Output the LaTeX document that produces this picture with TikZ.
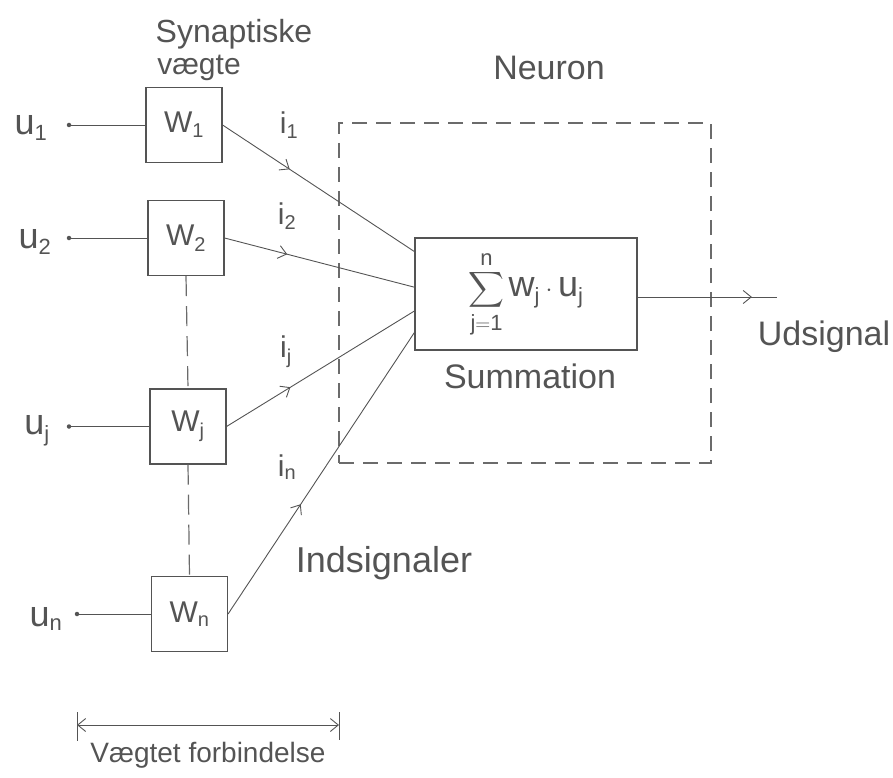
\documentclass[tikz,border=0pt]{standalone}
\usepackage{amsmath}
\usepackage{fontspec}
\setmainfont{Liberation Sans}
\DeclareMathSizes{30}{30}{20}{15}
\DeclareMathSizes{36}{36}{22}{16}
\usetikzlibrary{arrows.meta,decorations.markings,calc}
\definecolor{ink}{gray}{0.33}
\definecolor{lite}{gray}{0.42}
\begin{document}
\begin{tikzpicture}[x=1pt,y=-1pt,
  every node/.append style={text=ink},
  wbox/.style={draw=ink,line width=1.1pt,minimum width=76pt,minimum height=75pt,inner sep=0pt,font=\fontsize{30}{34}\selectfont},
  conn/.style={draw=ink,line width=0.9pt},
  dashline/.style={draw=lite,line width=1.1pt,dash pattern=on 15pt off 9pt},
  vdash/.style={draw=lite,line width=1.2pt,dash pattern=on 20pt off 10pt},
  midarrow/.style={postaction={decorate},decoration={markings,mark=at position #1 with {\arrow{Straight Barb[length=8pt,width=13pt,line width=0.9pt]}}}},
  dotnode/.style={circle,fill=ink,minimum size=4.5pt,inner sep=0pt},
  ulbl/.style={inner sep=0pt,font=\fontsize{36}{40}\selectfont},
  ilbl/.style={inner sep=0pt,font=\fontsize{30}{34}\selectfont},
  txt/.style={inner sep=0pt,anchor=base,font=\fontsize{#1}{#1}\selectfont}
]
\useasboundingbox (0,0) rectangle (893,778);

% weight boxes
\node[wbox] (w1) at (184,125) {W\textsubscript{1}};
\node[wbox] (w2) at (186,238) {W\textsubscript{2}};
\node[wbox] (wj) at (188,426.5) {W\textsubscript{j}};
\node[wbox] (wn) at (189.5,614) {W\textsubscript{n}};

% input dots and labels
\node[dotnode] (d1) at (69,125) {};
\node[dotnode] (d2) at (69,238) {};
\node[dotnode] (dj) at (69,426.5) {};
\node[dotnode] (dn) at (77,614) {};
\node[ulbl] (u1) at (31,128) {u\textsubscript{1}};
\node[ulbl] (u2) at (35,242) {u\textsubscript{2}};
\node[ulbl] (uj) at (37,431) {u\textsubscript{j}};
\node[ulbl] (un) at (46,619) {u\textsubscript{n}};

\draw[conn] (d1) -- (w1.west);
\draw[conn] (d2) -- (w2.west);
\draw[conn] (dj) -- (wj.west);
\draw[conn] (dn) -- (wn.west);

% dashed links between weight boxes
\draw[vdash] (w2.south) -- (wj.north);
\draw[vdash] (wj.south) -- (wn.north);

% neuron box
\node[dashline,minimum width=372pt,minimum height=340pt,inner sep=0pt] (neuron) at (525,293) {};

% summation box
\node[draw=ink,line width=1.1pt,minimum width=222pt,minimum height=112pt,inner sep=0pt,
      font=\fontsize{36}{40}\selectfont] (sum) at (526,294)
  {$\displaystyle\sum_{\mathrm{j=1}}^{\mathrm{n}}\mathrm{w}_{\mathrm{j}}\cdot\mathrm{u}_{\mathrm{j}}$};

\coordinate (e1) at ($(sum.north west)!0.125!(sum.south west)$);
\coordinate (e2) at ($(sum.north west)!0.44!(sum.south west)$);
\coordinate (ej) at ($(sum.north west)!0.65!(sum.south west)$);
\coordinate (en) at ($(sum.north west)!0.84!(sum.south west)$);

\draw[conn,midarrow=0.35] (w1.east) -- (e1);
\draw[conn,midarrow=0.33] (w2.east) -- (e2);
\draw[conn,midarrow=0.34] (wj.east) -- (ej);
\draw[conn,midarrow=0.39] (wn.east) -- (en);

% output
\coordinate (out) at (777,297);
\draw[conn,midarrow=0.82] (sum.east |- out) -- (out);

% i labels
\node[ilbl] (i1) at (289,125) {i\textsubscript{1}};
\node[ilbl] (i2) at (287,216) {i\textsubscript{2}};
\node[ilbl] (ij) at (286,352) {i\textsubscript{j}};
\node[ilbl] (in) at (287,467) {i\textsubscript{n}};

% texts
\node[txt=32] (syn) at (234,43) {Synaptiske};
\node[txt=30] (vaeg) at (199,75) {vægte};
\node[txt=34] (neu) at (549,80) {Neuron};
\node[txt=34] (summ) at (530,388) {Summation};
\node[txt=34] (uds) at (824,345) {Udsignal};
\node[txt=36] (ind) at (384,572) {Indsignaler};
\node[txt=28] (vf) at (208,762) {Vægtet forbindelse};

% dimension line
\coordinate (dl) at (77,725);
\coordinate (dr) at (339,725);
\draw[conn,{Straight Barb[length=8pt,width=13pt,line width=0.9pt]}-{Straight Barb[length=8pt,width=13pt,line width=0.9pt]}] (dl) -- (dr);
\draw[conn] ($(dl)+(0,-13)$) -- ($(dl)+(0,16)$);
\draw[conn] ($(dr)+(0,-13)$) -- ($(dr)+(0,15)$);
\end{tikzpicture}
\end{document}
